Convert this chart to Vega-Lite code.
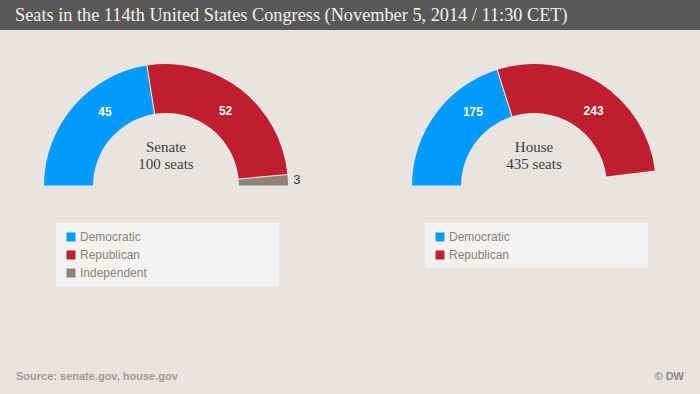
{
  "$schema": "https://vega.github.io/schema/vega-lite/v6.json",
  "width": 700,
  "height": 394,
  "autosize": {"type": "fit", "contains": "padding"},
  "padding": 0,
  "background": "#e7e4e1",
  "config": {"view": {"stroke": null}},
  "datasets": {
    "seats": [
      {"chamber": "Senate", "party": "Democratic", "seats": 45, "order": 1},
      {"chamber": "Senate", "party": "Republican", "seats": 52, "order": 2},
      {"chamber": "Senate", "party": "Independent", "seats": 3, "order": 3},
      {"chamber": "House", "party": "Democratic", "seats": 175, "order": 1},
      {"chamber": "House", "party": "Republican", "seats": 243, "order": 2}
    ],
    "chambers": [
      {"chamber": "Senate", "total": 100},
      {"chamber": "House", "total": 435}
    ]
  },
  "layer": [
    {
      "data": {"values": [{}]},
      "mark": {"type": "rect", "x": 0, "x2": 700, "y": 0, "y2": 30, "color": "#595856"},
      "encoding": {}
    },
    {
      "data": {"values": [{}]},
      "mark": {"type": "text", "x": 15, "y": 21, "text": "Seats in the 114th United States Congress (November 5, 2014 / 11:30 CET)", "align": "left", "baseline": "alphabetic", "font": "Liberation Serif", "fontSize": 18.3, "color": "#f2f2f2"},
      "encoding": {}
    },
    {
      "data": {"values": [{}]},
      "mark": {"type": "rect", "x": 56, "x2": 279, "y": 223, "y2": 286, "color": "#f4f2f0"},
      "encoding": {}
    },
    {
      "data": {"values": [{}]},
      "mark": {"type": "rect", "x": 425, "x2": 648, "y": 223, "y2": 268, "color": "#f4f2f0"},
      "encoding": {}
    },
    {
      "data": {"name": "seats"},
      "transform": [{"filter": "datum.chamber === 'Senate'"}],
      "mark": {"type": "arc", "radius": 122, "radius2": 73, "padAngle": 0.008},
      "encoding": {
        "x": {"field": "chamber", "type": "nominal", "scale": {"type": "point", "domain": ["Senate", "House"], "padding": 0.451}, "axis": null},
        "y": {"value": 186},
        "theta": {"field": "seats", "type": "quantitative", "stack": true, "scale": {"domain": [0, 100], "range": [-1.5708, 1.5708]}},
        "color": {
          "field": "party", "type": "nominal",
          "scale": {"domain": ["Democratic", "Republican", "Independent"], "range": ["#009af9", "#be1e2d", "#8e8272"]},
          "legend": {"orient": "none", "legendX": 65, "legendY": 231, "title": null, "padding": 0, "symbolType": "square", "symbolSize": 81, "symbolStrokeWidth": 0, "labelFont": "Liberation Sans", "labelFontSize": 12, "labelColor": "#8a8076", "labelOffset": 3, "rowPadding": 6}
        },
        "order": {"field": "order", "type": "quantitative"}
      }
    },
    {
      "data": {"name": "seats"},
      "transform": [{"filter": "datum.chamber === 'House'"}],
      "mark": {"type": "arc", "radius": 122, "radius2": 73, "padAngle": 0.008},
      "encoding": {
        "x": {"field": "chamber", "type": "nominal", "scale": {"type": "point", "domain": ["Senate", "House"], "padding": 0.451}, "axis": null},
        "y": {"value": 186},
        "theta": {"field": "seats", "type": "quantitative", "stack": true, "scale": {"domain": [0, 435], "range": [-1.5708, 1.5708]}},
        "color": {
          "field": "party", "type": "nominal",
          "scale": {"domain": ["Democratic", "Republican"], "range": ["#009af9", "#be1e2d"]},
          "legend": {"orient": "none", "legendX": 434, "legendY": 231, "title": null, "padding": 0, "symbolType": "square", "symbolSize": 81, "symbolStrokeWidth": 0, "labelFont": "Liberation Sans", "labelFontSize": 12, "labelColor": "#8a8076", "labelOffset": 3, "rowPadding": 6}
        },
        "order": {"field": "order", "type": "quantitative"}
      }
    },
    {
      "data": {"name": "seats"},
      "transform": [{"filter": "datum.party !== 'Independent'"}],
      "mark": {"type": "text", "radius": 96, "font": "Liberation Sans", "fontSize": 12, "fontWeight": "bold", "color": "#ffffff", "align": "center", "baseline": "middle"},
      "encoding": {
        "x": {"field": "chamber", "type": "nominal", "scale": {"type": "point", "domain": ["Senate", "House"], "padding": 0.451}, "axis": null},
        "y": {"value": 186},
        "theta": {"field": "order", "type": "quantitative", "scale": {"domain": [1, 2], "range": [-0.69, 0.67]}},
        "text": {"field": "seats", "type": "quantitative"}
      }
    },
    {
      "data": {"name": "seats"},
      "transform": [{"filter": "datum.chamber === 'Senate'"}],
      "mark": {"type": "text", "radius": 131, "font": "Liberation Sans", "fontSize": 13, "color": "#3a3a3a", "align": "center", "baseline": "middle"},
      "encoding": {
        "x": {"field": "chamber", "type": "nominal", "scale": {"type": "point", "domain": ["Senate", "House"], "padding": 0.451}, "axis": null},
        "y": {"value": 186},
        "theta": {"field": "seats", "type": "quantitative", "stack": true, "scale": {"domain": [0, 100], "range": [-1.5708, 1.5708]}},
        "order": {"field": "order", "type": "quantitative"},
        "detail": {"field": "party"},
        "text": {"field": "seats", "type": "quantitative"},
        "opacity": {"condition": {"test": "datum.party === 'Independent'", "value": 1}, "value": 0}
      }
    },
    {
      "data": {"name": "chambers"},
      "mark": {"type": "text", "font": "Liberation Serif", "fontSize": 15, "color": "#3d3d3d", "align": "center", "baseline": "alphabetic"},
      "encoding": {
        "x": {"field": "chamber", "type": "nominal", "scale": {"type": "point", "domain": ["Senate", "House"], "padding": 0.451}, "axis": null},
        "y": {"value": 152},
        "text": {"field": "chamber"}
      }
    },
    {
      "data": {"name": "chambers"},
      "transform": [{"calculate": "datum.total + ' seats'", "as": "label"}],
      "mark": {"type": "text", "font": "Liberation Serif", "fontSize": 15, "color": "#3d3d3d", "align": "center", "baseline": "alphabetic"},
      "encoding": {
        "x": {"field": "chamber", "type": "nominal", "scale": {"type": "point", "domain": ["Senate", "House"], "padding": 0.451}, "axis": null},
        "y": {"value": 169},
        "text": {"field": "label"}
      }
    },
    {
      "data": {"values": [{}]},
      "mark": {"type": "text", "x": 16, "y": 380, "text": "Source: senate.gov, house.gov", "align": "left", "baseline": "alphabetic", "font": "Liberation Sans", "fontSize": 11, "fontWeight": "bold", "color": "#a39b92"},
      "encoding": {}
    },
    {
      "data": {"values": [{}]},
      "mark": {"type": "text", "x": 684, "y": 380, "text": "© DW", "align": "right", "baseline": "alphabetic", "font": "Liberation Sans", "fontSize": 11, "fontWeight": "bold", "color": "#8e867c"},
      "encoding": {}
    }
  ],
  "resolve": {"scale": {"theta": "independent", "color": "independent"}}
}
